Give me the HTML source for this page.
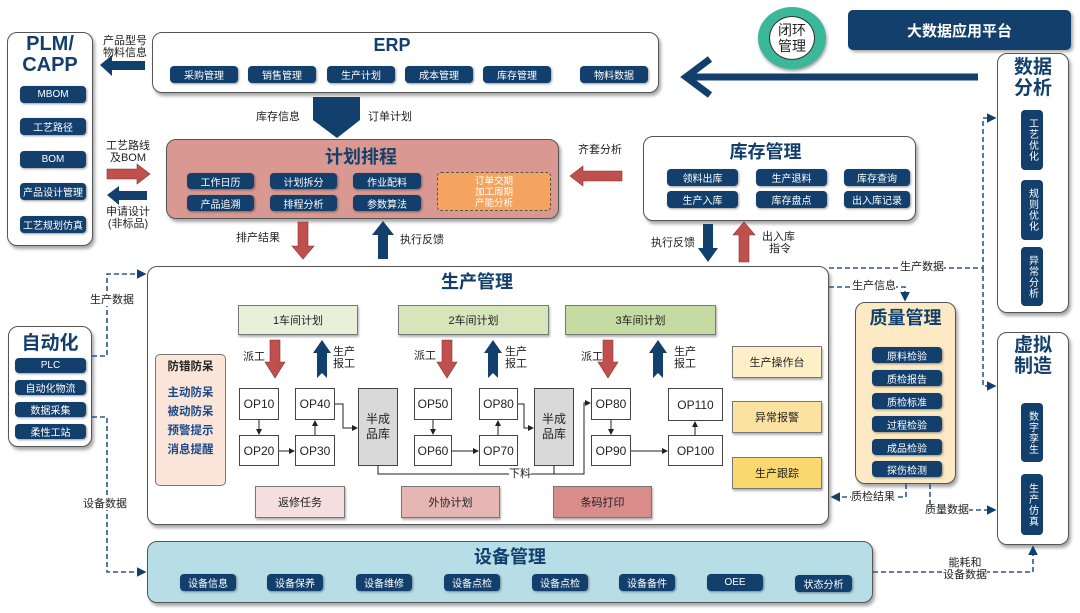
<!DOCTYPE html>
<html><head><meta charset="utf-8">
<style>
*{margin:0;padding:0;box-sizing:border-box}
body{width:1080px;height:613px;background:#fff;position:relative;overflow:hidden;font-family:"Liberation Sans","Noto Sans CJK SC",sans-serif;color:#222}
.a{position:absolute}
.box{position:absolute;border:1.5px solid #555;border-radius:10px;background:#fff;box-shadow:2px 3px 3px rgba(0,0,0,.35)}
.pill{position:absolute;background:#123f6b;color:#fff;font-size:10px;border-radius:4px;display:flex;align-items:center;justify-content:center;box-shadow:1px 1px 2px rgba(0,0,0,.4);white-space:nowrap}
.vp{position:absolute;background:#123f6b;color:#fff;font-size:10px;border-radius:4px;display:flex;align-items:center;justify-content:center;writing-mode:vertical-rl;letter-spacing:1px}
.t{position:absolute;color:#123f6b;font-weight:bold;text-align:center}
.lb{position:absolute;font-size:11px;line-height:12px;text-align:center;white-space:nowrap}
.op{position:absolute;border:1px solid #444;background:#fff;font-size:12px;display:flex;align-items:center;justify-content:center}
.fl{position:absolute;border:1px solid #777;display:flex;align-items:center;justify-content:center;font-size:11px;box-shadow:1px 2px 2px rgba(0,0,0,.3)}
</style></head><body>

<!-- PLM -->
<div class="box" style="left:7px;top:32px;width:86px;height:214px"></div>
<div class="t" style="left:7px;top:34px;width:86px;font-size:20px;line-height:21px">PLM/<br>CAPP</div>
<div class="pill" style="left:20px;top:86px;width:66px;height:17px">MBOM</div>
<div class="pill" style="left:20px;top:118px;width:66px;height:17px">工艺路径</div>
<div class="pill" style="left:20px;top:151px;width:66px;height:17px">BOM</div>
<div class="pill" style="left:20px;top:183px;width:66px;height:17px">产品设计管理</div>
<div class="pill" style="left:20px;top:216px;width:66px;height:17px">工艺规划仿真</div>

<!-- ERP -->
<div class="box" style="left:152px;top:32px;width:507px;height:61px"></div>
<div class="t" style="left:152px;top:35px;width:480px;font-size:18px">ERP</div>
<div class="pill" style="left:170px;top:66px;width:68px;height:17px">采购管理</div>
<div class="pill" style="left:248px;top:66px;width:68px;height:17px">销售管理</div>
<div class="pill" style="left:327px;top:66px;width:68px;height:17px">生产计划</div>
<div class="pill" style="left:405px;top:66px;width:68px;height:17px">成本管理</div>
<div class="pill" style="left:483px;top:66px;width:68px;height:17px">库存管理</div>
<div class="pill" style="left:580px;top:66px;width:68px;height:17px">物料数据</div>

<!-- 闭环 -->
<div class="a" style="left:758px;top:7px;width:68px;height:62px;border-radius:50%;background:#3bb89a;box-shadow:1px 2px 3px rgba(0,0,0,.4)"></div>
<div class="a" style="left:769px;top:16px;width:46px;height:44px;border-radius:50%;background:#fff;border:1px solid #333;font-size:14px;line-height:16px;text-align:center;padding-top:5px">闭环<br>管理</div>

<div class="a" style="left:848px;top:10px;width:223px;height:40px;background:#123f6b;border-radius:5px;color:#fff;font-weight:bold;font-size:15px;display:flex;align-items:center;justify-content:center;box-shadow:2px 2px 3px rgba(0,0,0,.35)">大数据应用平台</div>

<!-- 数据分析 -->
<div class="box" style="left:997px;top:53px;width:72px;height:260px"></div>
<div class="t" style="left:997px;top:57px;width:72px;font-size:19px;line-height:21px">数据<br>分析</div>
<div class="vp" style="left:1021px;top:110px;width:22px;height:60px">工艺优化</div>
<div class="vp" style="left:1021px;top:180px;width:22px;height:60px">规则优化</div>
<div class="vp" style="left:1021px;top:247px;width:22px;height:59px">异常分析</div>

<!-- 虚拟制造 -->
<div class="box" style="left:997px;top:332px;width:72px;height:213px"></div>
<div class="t" style="left:997px;top:335px;width:72px;font-size:19px;line-height:21px">虚拟<br>制造</div>
<div class="vp" style="left:1021px;top:403px;width:22px;height:59px">数字孪生</div>
<div class="vp" style="left:1021px;top:474px;width:22px;height:61px">生产仿真</div>

<!-- 计划排程 -->
<div class="box" style="left:166px;top:139px;width:393px;height:80px;background:#d99891"></div>
<div class="t" style="left:166px;top:143px;width:390px;font-size:18px">计划排程</div>
<div class="pill" style="left:187px;top:173px;width:67px;height:16px">工作日历</div>
<div class="pill" style="left:270px;top:173px;width:67px;height:16px">计划拆分</div>
<div class="pill" style="left:353px;top:173px;width:68px;height:16px">作业配料</div>
<div class="pill" style="left:187px;top:195px;width:67px;height:16px">产品追溯</div>
<div class="pill" style="left:270px;top:195px;width:67px;height:16px">排程分析</div>
<div class="pill" style="left:353px;top:195px;width:68px;height:16px">参数算法</div>
<div class="a" style="left:437px;top:172px;width:114px;height:39px;background:#f4a45e;border:1.5px dashed #555;border-radius:4px;color:#fff;font-size:9.5px;line-height:11px;text-align:center;padding-top:3px">订单交期<br>加工周期<br>产能分析</div>

<!-- 库存管理 -->
<div class="box" style="left:643px;top:136px;width:273px;height:85px"></div>
<div class="t" style="left:643px;top:138px;width:245px;font-size:18px">库存管理</div>
<div class="pill" style="left:667px;top:169px;width:71px;height:17px">领料出库</div>
<div class="pill" style="left:756px;top:169px;width:71px;height:17px">生产退料</div>
<div class="pill" style="left:844px;top:169px;width:66px;height:17px">库存查询</div>
<div class="pill" style="left:667px;top:191px;width:71px;height:17px">生产入库</div>
<div class="pill" style="left:756px;top:191px;width:71px;height:17px">库存盘点</div>
<div class="pill" style="left:844px;top:191px;width:66px;height:17px">出入库记录</div>

<!-- 自动化 -->
<div class="box" style="left:8px;top:326px;width:84px;height:121px"></div>
<div class="t" style="left:8px;top:328px;width:84px;font-size:19px">自动化</div>
<div class="pill" style="left:15px;top:358px;width:71px;height:15px">PLC</div>
<div class="pill" style="left:15px;top:380px;width:71px;height:15px">自动化物流</div>
<div class="pill" style="left:15px;top:402px;width:71px;height:15px">数据采集</div>
<div class="pill" style="left:15px;top:424px;width:71px;height:15px">柔性工站</div>

<!-- 生产管理 -->
<div class="box" style="left:147px;top:266px;width:682px;height:259px"></div>
<div class="t" style="left:147px;top:268px;width:660px;font-size:18px">生产管理</div>
<div class="fl" style="left:238px;top:305px;width:120px;height:30px;background:#e8f0da">1车间计划</div>
<div class="fl" style="left:398px;top:305px;width:151px;height:30px;background:#d5e6bb">2车间计划</div>
<div class="fl" style="left:565px;top:305px;width:151px;height:30px;background:#c4dba2">3车间计划</div>
<div class="a" style="left:155px;top:354px;width:71px;height:132px;background:#fbe4d8;border:1px solid #777;border-radius:5px;text-align:center;font-size:11.5px;font-weight:bold">
<div style="margin-top:3px;color:#222">防错防呆</div>
<div style="color:#1a4a8a;line-height:19px;margin-top:10px">主动防呆<br>被动防呆<br>预警提示<br>消息提醒</div></div>

<div class="op" style="left:239px;top:388px;width:40px;height:32px">OP10</div>
<div class="op" style="left:295px;top:388px;width:40px;height:32px">OP40</div>
<div class="op" style="left:239px;top:435px;width:40px;height:31px">OP20</div>
<div class="op" style="left:295px;top:435px;width:40px;height:31px">OP30</div>
<div class="op" style="left:358px;top:388px;width:40px;height:78px;background:#d9d9d9;line-height:15px;text-align:center">半成<br>品库</div>
<div class="op" style="left:414px;top:388px;width:38px;height:32px">OP50</div>
<div class="op" style="left:479px;top:388px;width:39px;height:32px">OP80</div>
<div class="op" style="left:414px;top:435px;width:38px;height:31px">OP60</div>
<div class="op" style="left:479px;top:435px;width:39px;height:31px">OP70</div>
<div class="op" style="left:534px;top:388px;width:40px;height:78px;background:#d9d9d9;line-height:15px;text-align:center">半成<br>品库</div>
<div class="op" style="left:591px;top:388px;width:40px;height:32px">OP80</div>
<div class="op" style="left:668px;top:388px;width:55px;height:33px">OP110</div>
<div class="op" style="left:591px;top:435px;width:40px;height:31px">OP90</div>
<div class="op" style="left:668px;top:435px;width:55px;height:31px">OP100</div>

<div class="fl" style="left:255px;top:486px;width:90px;height:32px;background:#f4dede">返修任务</div>
<div class="fl" style="left:401px;top:486px;width:99px;height:32px;background:#e6b6b5">外协计划</div>
<div class="fl" style="left:553px;top:486px;width:99px;height:32px;background:#d88d8b">条码打印</div>
<div class="fl" style="left:732px;top:346px;width:90px;height:32px;background:#fdf0c9">生产操作台</div>
<div class="fl" style="left:732px;top:401px;width:90px;height:32px;background:#fce2a0">异常报警</div>
<div class="fl" style="left:732px;top:457px;width:90px;height:32px;background:#f9d86f">生产跟踪</div>

<!-- 质量管理 -->
<div class="box" style="left:855px;top:302px;width:101px;height:182px;background:#fdeac4"></div>
<div class="t" style="left:855px;top:304px;width:101px;font-size:18px">质量管理</div>
<div class="pill" style="left:872px;top:347px;width:70px;height:16px">原料检验</div>
<div class="pill" style="left:872px;top:370px;width:70px;height:16px">质检报告</div>
<div class="pill" style="left:872px;top:393px;width:70px;height:16px">质检标准</div>
<div class="pill" style="left:872px;top:416px;width:70px;height:16px">过程检验</div>
<div class="pill" style="left:872px;top:439px;width:70px;height:16px">成品检验</div>
<div class="pill" style="left:872px;top:461px;width:70px;height:16px">探伤检测</div>

<!-- 设备管理 -->
<div class="box" style="left:147px;top:541px;width:726px;height:62px;background:#b7dde6"></div>
<div class="t" style="left:147px;top:543px;width:726px;font-size:18px">设备管理</div>
<div class="pill" style="left:180px;top:574px;width:56px;height:17px">设备信息</div>
<div class="pill" style="left:267px;top:574px;width:56px;height:17px">设备保养</div>
<div class="pill" style="left:356px;top:574px;width:56px;height:17px">设备维修</div>
<div class="pill" style="left:444px;top:574px;width:56px;height:17px">设备点检</div>
<div class="pill" style="left:532px;top:574px;width:56px;height:17px">设备点检</div>
<div class="pill" style="left:619px;top:574px;width:56px;height:17px">设备备件</div>
<div class="pill" style="left:707px;top:574px;width:56px;height:17px">OEE</div>
<div class="pill" style="left:795px;top:575px;width:57px;height:17px">状态分析</div>

<svg class="a" style="left:0;top:0" width="1080" height="613">
<defs>
<marker id="m" markerWidth="6" markerHeight="6" refX="5" refY="3" orient="auto"><path d="M0,0 L6,3 L0,6z" fill="#123f6b"/></marker>
<marker id="k" markerWidth="6" markerHeight="6" refX="5" refY="3" orient="auto"><path d="M0,0 L6,3 L0,6z" fill="#222"/></marker>
</defs>
<g fill="#123f6b">
<!-- PLM arrows -->
<path d="M100,65 L112,55 L112,61 L145,61 L145,70 L112,70 L112,76z"/>
<path d="M107,195 L119,186 L119,191 L147,191 L147,200 L119,200 L119,205z"/>
<!-- ERP chevron -->
<path d="M313,97 L360,97 L360,120 L337,138 L313,120z"/>
<!-- up arrow 执行反馈 -->
<path d="M383,221 L394,235 L388,235 L388,259 L378,259 L378,235 L372,235z"/>
<!-- 库存 down -->
<path d="M703,224 L713,224 L713,248 L718,248 L708,262 L698,248 L703,248z"/>
<!-- 报工 up arrows -->
<path d="M322,340 L331,353 L327,353 L327,378 L322,373 L317,378 L317,353 L313,353z"/>
<path d="M493,340 L502,353 L498,353 L498,378 L493,373 L488,378 L488,353 L484,353z"/>
<path d="M658,340 L667,353 L663,353 L663,378 L658,373 L653,378 L653,353 L649,353z"/>
</g>
<path d="M978,77 L690,77 M710,59 L686,77 L710,95" stroke="#123f6b" stroke-width="7" fill="none"/>
<g fill="#c0504d" stroke="#8a3330" stroke-width=".6">
<path d="M107,169 L137,169 L137,164 L150,174 L137,184 L137,179 L107,179z"/>
<path d="M570,176 L583,166 L583,171 L622,171 L622,181 L583,181 L583,186z"/>
<path d="M298,222 L308,222 L308,246 L314,246 L303,259 L292,246 L298,246z"/>
<path d="M739,235 L733,235 L744,222 L755,235 L749,235 L749,262 L739,262z"/>
<path d="M270,340 L280,340 L280,362 L285,362 L275,378 L265,362 L270,362z"/>
<path d="M442,340 L452,340 L452,362 L457,362 L447,378 L437,362 L442,362z"/>
<path d="M603,340 L613,340 L613,362 L618,362 L608,378 L598,362 L603,362z"/>
</g>
<!-- op connectors -->
<g stroke="#222" stroke-width="1" fill="none">
<path d="M259,420 L259,434" marker-end="url(#k)"/>
<path d="M279,451 L294,451" marker-end="url(#k)"/>
<path d="M315,435 L315,421" marker-end="url(#k)"/>
<path d="M335,404 L343,404 L343,428 L357,428" marker-end="url(#k)"/>
<path d="M433,420 L433,434" marker-end="url(#k)"/>
<path d="M452,451 L478,451" marker-end="url(#k)"/>
<path d="M498,435 L498,421" marker-end="url(#k)"/>
<path d="M518,404 L524,404 L524,428 L533,428" marker-end="url(#k)"/>
<path d="M611,420 L611,434" marker-end="url(#k)"/>
<path d="M631,451 L667,451" marker-end="url(#k)"/>
<path d="M695,435 L695,422" marker-end="url(#k)"/>
<path d="M378,466 L378,474 L584,474 L584,403 L590,403" marker-end="url(#k)"/>
<path d="M554,466 L554,474"/>
</g>
<!-- dashed -->
<g stroke="#2a5a8a" stroke-width="1.6" stroke-dasharray="5,3" fill="none">
<path d="M829,268 L983,268 L983,118 L995,118" marker-end="url(#m)"/>
<path d="M983,268 L983,386 L995,386" marker-end="url(#m)"/>
<path d="M829,287 L905,287 L905,300" marker-end="url(#m)"/>
<path d="M906,484 L906,497 L832,497" marker-end="url(#m)"/>
<path d="M930,484 L930,510 L995,510" marker-end="url(#m)"/>
<path d="M873,572 L1033,572 L1033,547" marker-end="url(#m)"/>
<path d="M92,356 L107,356 L107,274 L145,274" marker-end="url(#m)"/>
<path d="M92,417 L107,417 L107,572 L145,572" marker-end="url(#m)"/>
</g>
</svg>

<!-- labels -->
<div class="lb" style="left:100px;top:35px;width:50px">产品型号<br>物料信息</div>
<div class="lb" style="left:103px;top:140px;width:50px">工艺路线<br>及BOM</div>
<div class="lb" style="left:103px;top:206px;width:50px">申请设计<br>(非标品)</div>
<div class="lb" style="left:256px;top:111px">库存信息</div>
<div class="lb" style="left:368px;top:111px">订单计划</div>
<div class="lb" style="left:236px;top:232px">排产结果</div>
<div class="lb" style="left:400px;top:234px">执行反馈</div>
<div class="lb" style="left:578px;top:144px">齐套分析</div>
<div class="lb" style="left:651px;top:237px">执行反馈</div>
<div class="lb" style="left:762px;top:231px">出入库<br>&nbsp;指令</div>
<div class="lb" style="left:243px;top:351px">派工</div>
<div class="lb" style="left:333px;top:346px">生产<br>报工</div>
<div class="lb" style="left:414px;top:350px">派工</div>
<div class="lb" style="left:505px;top:346px">生产<br>报工</div>
<div class="lb" style="left:581px;top:351px">派工</div>
<div class="lb" style="left:674px;top:346px">生产<br>报工</div>
<div class="lb" style="left:509px;top:468px;background:#fff">下料</div>
<div class="lb" style="left:900px;top:261px;background:#fff">生产数据</div>
<div class="lb" style="left:852px;top:280px;background:#fff">生产信息</div>
<div class="lb" style="left:851px;top:491px;background:#fff">质检结果</div>
<div class="lb" style="left:925px;top:504px;background:#fff">质量数据</div>
<div class="lb" style="left:943px;top:557px;background:#fff">能耗和<br>设备数据</div>
<div class="lb" style="left:90px;top:294px;background:#fff">生产数据</div>
<div class="lb" style="left:83px;top:498px;background:#fff">设备数据</div>
</body></html>
